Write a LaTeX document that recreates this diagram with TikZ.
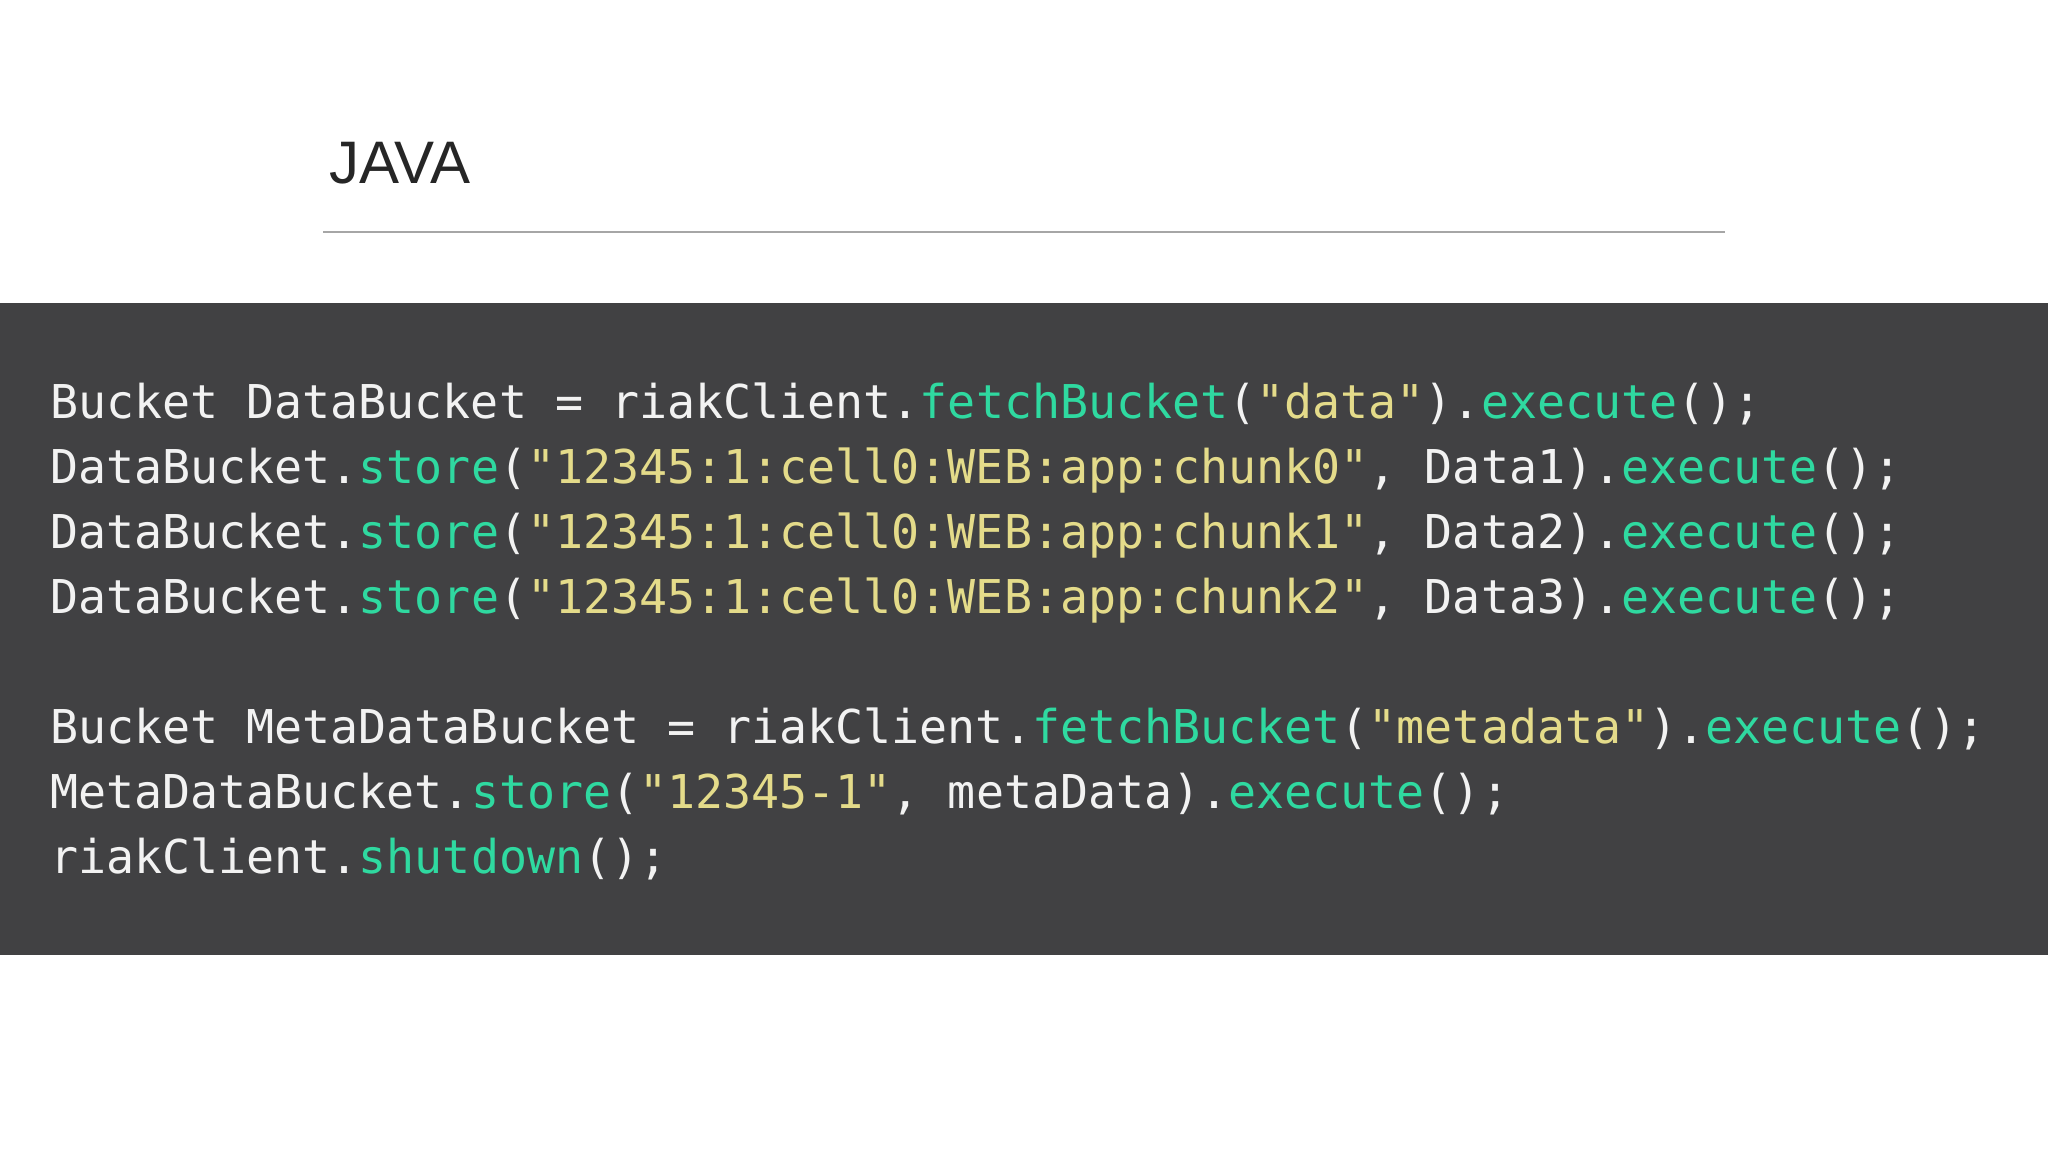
\documentclass[tikz,border=0pt]{standalone}
\usepackage{fontspec}
\setmainfont{Liberation Sans}
\newfontfamily\codefont{DejaVu Sans Mono}
\definecolor{band}{HTML}{414143}
\definecolor{fn}{HTML}{2FD9A0}
\definecolor{str}{HTML}{E4DB8A}
\definecolor{txt}{HTML}{F2F2F2}
\newcommand{\F}[1]{\textcolor{fn}{#1}}
\newcommand{\Sx}[1]{\textcolor{str}{#1}}
\tikzset{codeline/.style={anchor=base west,inner sep=0pt,text=txt,font=\codefont\fontsize{46.6}{50}\selectfont}}
\begin{document}
\begin{tikzpicture}[x=1pt,y=-1pt]
\useasboundingbox (0,0) rectangle (2048,1152);
\fill[white] (0,0) rectangle (2048,1152);
\node[anchor=base west,inner sep=0pt,text=black!85,font=\fontsize{60}{70}\selectfont] (title) at (329,183) {JAVA};
\coordinate (la) at (323,232); \coordinate (lb) at (1725,232);
\draw[gray!70,line width=2] (la) -- (lb);
\fill[band] (0,303) rectangle (2048,955);
\node[codeline] (c1) at (50,418) {Bucket DataBucket = riakClient.\F{fetchBucket}(\Sx{"data"}).\F{execute}();};
\node[codeline] (c2) at (50,483) {DataBucket.\F{store}(\Sx{"12345:1:cell0:WEB:app:chunk0"}, Data1).\F{execute}();};
\node[codeline] (c3) at (50,548) {DataBucket.\F{store}(\Sx{"12345:1:cell0:WEB:app:chunk1"}, Data2).\F{execute}();};
\node[codeline] (c4) at (50,613) {DataBucket.\F{store}(\Sx{"12345:1:cell0:WEB:app:chunk2"}, Data3).\F{execute}();};
\node[codeline] (c5) at (50,743) {Bucket MetaDataBucket = riakClient.\F{fetchBucket}(\Sx{"metadata"}).\F{execute}();};
\node[codeline] (c6) at (50,808) {MetaDataBucket.\F{store}(\Sx{"12345-1"}, metaData).\F{execute}();};
\node[codeline] (c7) at (50,873) {riakClient.\F{shutdown}();};
\end{tikzpicture}
\end{document}
